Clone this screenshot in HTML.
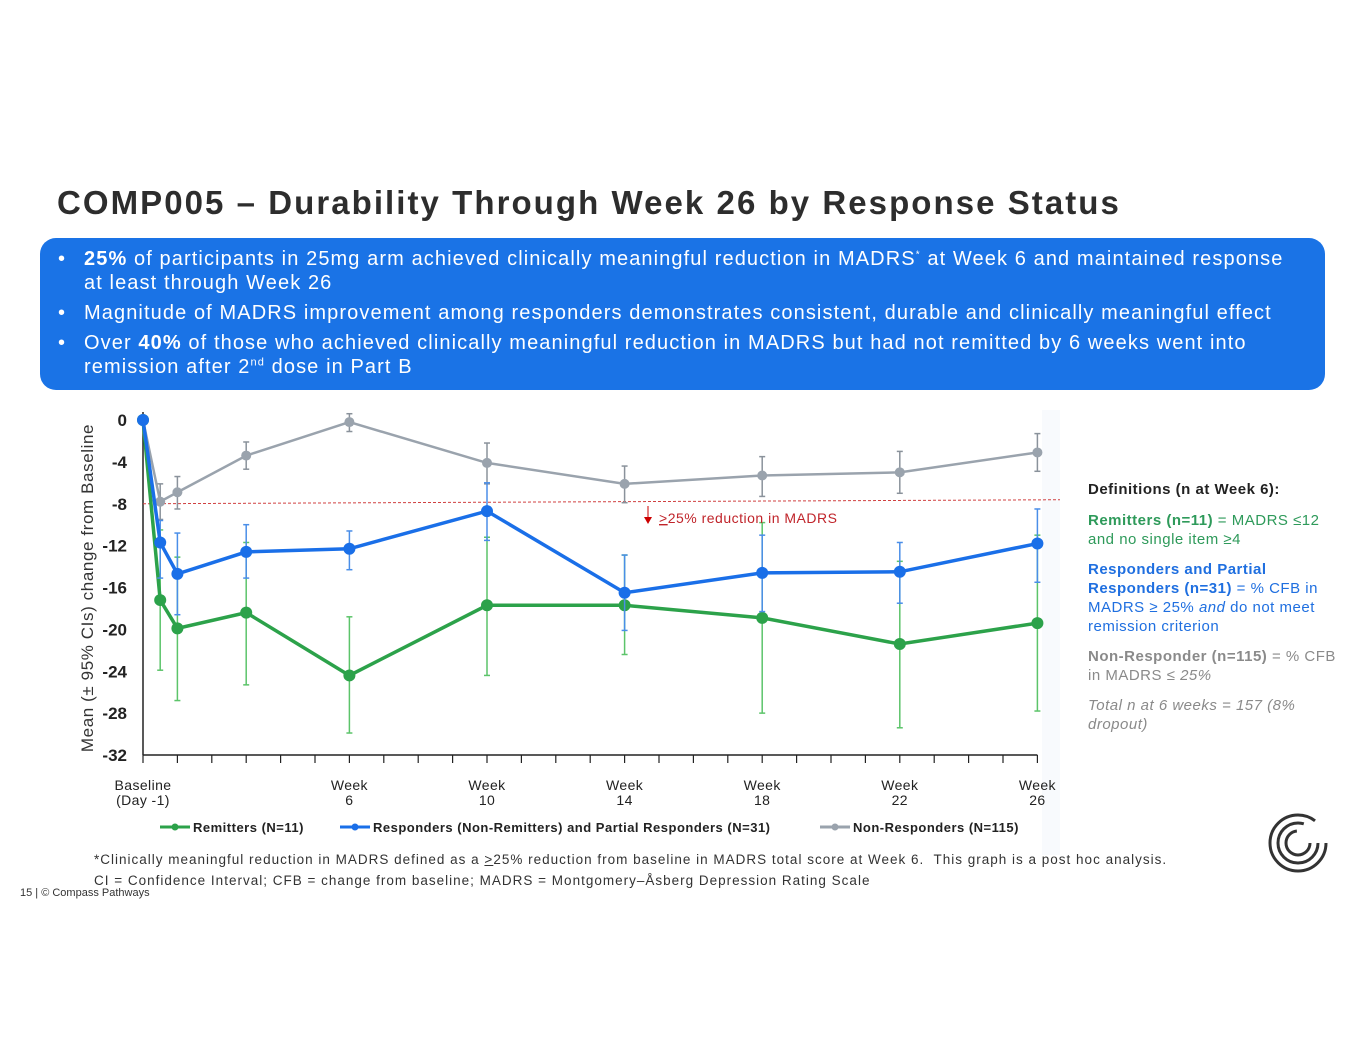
<!DOCTYPE html>
<html><head><meta charset="utf-8">
<style>
body{margin:0;width:1365px;height:1055px;background:#fff;position:relative;overflow:hidden;font-family:"Liberation Sans",sans-serif;}
.abs{position:absolute;}
sup{line-height:0;vertical-align:super;}
#title{left:57px;top:184px;font-size:33px;font-weight:bold;color:#2d2d2d;letter-spacing:2.05px;white-space:nowrap;}
#box{left:40px;top:238px;width:1285px;height:152px;background:#1a73e6;border-radius:16px;color:#fff;font-size:20px;line-height:24px;letter-spacing:1.1px;}
#box ul{margin:0;padding:9px 10px 0 44px;list-style:none;white-space:nowrap;}
#box li{position:relative;margin-bottom:6px;}
#box li:before{content:"•";position:absolute;left:-26px;}
#defs{left:1088px;top:480px;width:262px;font-size:15px;line-height:19px;letter-spacing:0.5px;}
#defs p{margin:0 0 11px 0;}
.g{color:#2e9a5a}.b{color:#1f6fe0}.gr{color:#8a8a8a}
#foot{left:94px;top:849px;font-size:13.5px;color:#333;line-height:21px;letter-spacing:1.0px;white-space:nowrap;}
#pg{left:20px;top:887px;font-size:11px;color:#333;}
</style></head><body>
<div id="title" class="abs">COMP005 – Durability Through Week 26 by Response Status</div>
<div id="box" class="abs">
<ul>
<li><b>25%</b> of participants in 25mg arm achieved clinically meaningful reduction in MADRS<sup style="font-size:10px">*</sup> at Week 6 and maintained response<br>at least through Week 26</li>
<li>Magnitude of MADRS improvement among responders demonstrates consistent, durable and clinically meaningful effect</li>
<li>Over <b>40%</b> of those who achieved clinically meaningful reduction in MADRS but had not remitted by 6 weeks went into<br>remission after 2<sup style="font-size:11px">nd</sup> dose in Part B</li>
</ul></div>

<svg class="abs" style="left:0;top:0" width="1365" height="1055">
<rect x="1042" y="410" width="18" height="445" fill="#f8fafd"/>
<g id="axes"></g><g id="marks"></g>
<text transform="translate(93,588) rotate(-90)" text-anchor="middle" font-size="17" fill="#333" font-family="Liberation Sans" letter-spacing="0.6">Mean (± 95% CIs) change from Baseline</text>
<g font-size="13" fill="#b22" font-family="Liberation Sans">
<line x1="648" y1="506" x2="648" y2="518" stroke="#c00" stroke-width="1"/>
<polygon points="644,517 652,517 648,524" fill="#c00"/>
<text x="659" y="523" fill="#c0242a" font-size="14" letter-spacing="0.5"><tspan text-decoration="underline">&gt;</tspan>25% reduction in MADRS</text>
</g>
<g font-size="13" font-weight="bold" fill="#222" font-family="Liberation Sans" letter-spacing="0.5">
<line x1="160" y1="827" x2="190" y2="827" stroke="#2ca24a" stroke-width="3"/><circle cx="175" cy="827" r="3.5" fill="#2ca24a"/>
<text x="193" y="832">Remitters (N=11)</text>
<line x1="340" y1="827" x2="370" y2="827" stroke="#1a6fe8" stroke-width="3"/><circle cx="355" cy="827" r="3.5" fill="#1a6fe8"/>
<text x="373" y="832">Responders (Non-Remitters) and Partial Responders (N=31)</text>
<line x1="820" y1="827" x2="850" y2="827" stroke="#9aa3ad" stroke-width="3"/><circle cx="835" cy="827" r="3.5" fill="#9aa3ad"/>
<text x="853" y="832">Non-Responders (N=115)</text>
</g>
<g fill="none" stroke="#333">
<circle cx="1298" cy="843" r="28" stroke-width="3" stroke-dasharray="150 26"/>
<circle cx="1298" cy="843" r="20" stroke-width="3" stroke-dasharray="100 26"/>
<circle cx="1298" cy="843" r="12" stroke-width="3" stroke-dasharray="55 20"/>
</g>
</svg>

<div id="defs" class="abs">
<p style="font-weight:bold;color:#222;margin-bottom:12px">Definitions (n at Week 6):</p>
<p class="g"><b>Remitters (n=11)</b> = MADRS ≤12 and no single item ≥4</p>
<p class="b"><b>Responders and Partial Responders (n=31)</b> = % CFB in MADRS ≥ 25% <i>and</i> do not meet remission criterion</p>
<p class="gr"><b>Non-Responder (n=115)</b> = % CFB in MADRS <i>≤ 25%</i></p>
<p class="gr" style="font-style:italic">Total n at 6 weeks = 157 (8% dropout)</p>
</div>
<div id="foot" class="abs">*Clinically meaningful reduction in MADRS defined as a <u>&gt;</u>25% reduction from baseline in MADRS total score at Week 6.&nbsp; This graph is a post hoc analysis.<br>CI = Confidence Interval; CFB = change from baseline; MADRS = Montgomery–Åsberg Depression Rating Scale</div>
<div id="pg" class="abs">15 | © Compass Pathways</div>

<script>
const weeks=[0,0.5,1,3,6,10,14,18,22,26];
const remMean=[0,-17.2,-19.9,-18.4,-24.4,-17.7,-17.7,-18.9,-21.4,-19.4];
const remHi=[0,-10.5,-13.1,-11.7,-18.8,-11.2,-12.9,-9.8,-13.5,-11];
const remLo=[0,-23.9,-26.8,-25.3,-29.9,-24.4,-22.4,-28.0,-29.4,-27.8];
const respMean=[0,-11.7,-14.7,-12.6,-12.3,-8.7,-16.5,-14.6,-14.5,-11.8];
const respHi=[0,-9.6,-10.8,-10.0,-10.6,-6.0,-12.9,-11.0,-11.7,-8.5];
const respLo=[0,-15.1,-18.6,-15.1,-14.3,-11.5,-20.1,-18.3,-17.5,-15.5];
const nonMean=[0,-7.8,-6.9,-3.4,-0.2,-4.1,-6.1,-5.3,-5.0,-3.1];
const nonHi=[0,-6.1,-5.4,-2.1,0.6,-2.2,-4.4,-3.5,-3.0,-1.3];
const nonLo=[0,-9.5,-8.5,-4.7,-1.1,-6.1,-7.9,-7.3,-7.0,-4.9];
const yTicks=[0,-4,-8,-12,-16,-20,-24,-28,-32];
const xLabelWeeks=[6,10,14,18,22,26];
const threshold=-8;
const NS='http://www.w3.org/2000/svg';
const X=w=>143+w*34.4, Y=v=>420-v*(335/32);
function mk(p,t,a){const e=document.createElementNS(NS,t);for(const k in a)e.setAttribute(k,a[k]);p.appendChild(e);return e;}
const ax=document.getElementById('axes'), mg=document.getElementById('marks');
let e=mk(ax,'line',{x1:X(0),y1:Y(0)-8,x2:X(0),y2:Y(-32),stroke:'#222','stroke-width':1.5});


e=mk(ax,'line',{x1:X(0),y1:Y(-32),x2:X(26),y2:Y(-32),stroke:'#222','stroke-width':1.5});


for(let w=0;w<=26;w++){mk(ax,'line',{x1:X(w),y1:Y(-32),x2:X(w),y2:Y(-32)+8,stroke:'#222','stroke-width':1.2});}
yTicks.forEach(v=>{e=mk(ax,'text',{x:127,y:Y(v)+6,'text-anchor':'end','font-size':17,'font-weight':'bold',fill:'#222','font-family':'Liberation Sans'});e.textContent=v;

});
function xl(x,l1,l2){e=mk(ax,'text',{x:x,y:790,'text-anchor':'middle','font-size':14,fill:'#222','font-family':'Liberation Sans','letter-spacing':0.4});e.textContent=l1;


e=mk(ax,'text',{x:x,y:805,'text-anchor':'middle','font-size':14,fill:'#222','font-family':'Liberation Sans','letter-spacing':0.4});e.textContent=l2;}
xl(X(0),'Baseline','(Day -1)');
xLabelWeeks.forEach(w=>xl(X(w),'Week',String(w)));
e=mk(ax,'line',{x1:X(0),y1:Y(threshold),x2:1060,y2:Y(threshold)-4,stroke:'#d04040','stroke-width':1,'stroke-dasharray':'3 2'});


function series(name,m,hi,lo,col,ecol,lw,r){
 const g=mk(mg,'g',{});
 
 
 weeks.forEach((w,i)=>{if(i===0)return;const x=X(w);
  mk(g,'line',{x1:x,y1:Y(hi[i]),x2:x,y2:Y(lo[i]),stroke:ecol,'stroke-width':1.5});
  mk(g,'line',{x1:x-3,y1:Y(hi[i]),x2:x+3,y2:Y(hi[i]),stroke:ecol,'stroke-width':1.5});
  mk(g,'line',{x1:x-3,y1:Y(lo[i]),x2:x+3,y2:Y(lo[i]),stroke:ecol,'stroke-width':1.5});});
 const l=mk(g,'polyline',{points:weeks.map((w,i)=>X(w)+','+Y(m[i])).join(' '),fill:'none',stroke:col,'stroke-width':lw});
 
 
 weeks.forEach((w,i)=>{const c=mk(g,'circle',{cx:X(w),cy:Y(m[i]),r:r,fill:col});
  
  });
}
series('non-responders',nonMean,nonHi,nonLo,'#9aa3ad','#8a929b',2.5,5);
series('remitters',remMean,remHi,remLo,'#2ca24a','#5cc46a',3.5,6);
series('responders',respMean,respHi,respLo,'#1a6fe8','#4a8ee8',3.5,6);
</script>
</body></html>
